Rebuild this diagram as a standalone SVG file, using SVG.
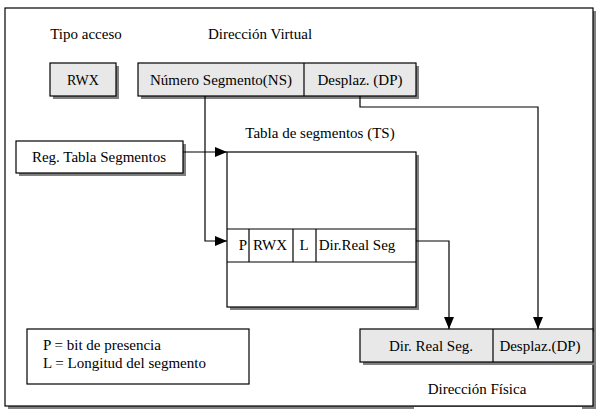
<svg xmlns="http://www.w3.org/2000/svg" width="601" height="416" viewBox="0 0 601 416">
<style>
text{font-family:"Liberation Serif","Times New Roman",serif;font-size:15px;fill:#000}
.c{text-anchor:middle}
.b{stroke:#000;stroke-width:1.2}
.g{fill:#e8e8e8}
.w{fill:#fff}
.sh{fill:#808080}
.ln{fill:none;stroke:#000;stroke-width:1.2}
</style>
<defs>
<marker id="ah" markerWidth="12" markerHeight="10" refX="12" refY="5" orient="auto" markerUnits="userSpaceOnUse">
<path d="M0,0 L12,5 L0,10 Z" fill="#000"/>
</marker>
</defs>
<rect width="601" height="416" fill="#fff"/>
<g id="frame">
<rect x="8" y="11" width="588" height="398" class="sh"/>
<rect x="5" y="8" width="588" height="398" class="b w"/>
<rect x="414" y="407" width="168" height="4" fill="#fff"/>
</g>
<g id="labels">
<text x="86" y="39" class="c">Tipo acceso</text>
<text x="260" y="39" class="c">Dirección Virtual</text>
<text x="320" y="138" class="c">Tabla de segmentos (TS)</text>
<text x="477" y="394" class="c">Dirección Física</text>
</g>
<g id="rwx">
<rect x="53" y="66" width="66" height="33" class="sh"/>
<rect x="50" y="63" width="66" height="33" class="b g"/>
<text x="83" y="85" class="c" style="font-size:14px">RWX</text>
</g>
<g id="virtual">
<rect x="141" y="66" width="278" height="33" class="sh"/>
<rect x="138" y="63" width="278" height="33" class="b g"/>
<line x1="304" y1="63" x2="304" y2="96" class="b"/>
<text x="221" y="85" class="c">Número Segmento(NS)</text>
<text x="360" y="85" class="c">Desplaz. (DP)</text>
</g>
<g id="reg">
<rect x="19" y="144" width="167" height="32" class="sh"/>
<rect x="16" y="141" width="167" height="32" class="b w"/>
<text x="99" y="162" class="c">Reg. Tabla Segmentos</text>
</g>
<g id="tabla">
<rect x="230" y="155" width="189" height="155" class="sh"/>
<rect x="227" y="152" width="189" height="155" class="b w"/>
<line x1="227" y1="229" x2="416" y2="229" class="b"/>
<line x1="227" y1="262" x2="416" y2="262" class="b"/>
<line x1="249" y1="229" x2="249" y2="262" class="b"/>
<line x1="293" y1="229" x2="293" y2="262" class="b"/>
<line x1="316" y1="229" x2="316" y2="262" class="b"/>
<text x="243" y="250" class="c">P</text>
<text x="270" y="250" class="c">RWX</text>
<text x="304" y="250" class="c">L</text>
<text x="357" y="250" class="c">Dir.Real Seg</text>
</g>
<g id="fisica">
<rect x="363" y="332" width="233" height="33" class="sh"/>
<rect x="360" y="329" width="233" height="33" class="b g"/>
<line x1="493" y1="329" x2="493" y2="362" class="b"/>
<text x="431" y="351" class="c">Dir. Real Seg.</text>
<text x="540" y="351" class="c">Desplaz.(DP)</text>
</g>
<g id="leyenda">
<rect x="27" y="329" width="222" height="55" class="b w"/>
<text x="43" y="350">P = bit de presencia</text>
<text x="43" y="368">L = Longitud del segmento</text>
</g>
<g id="connectors">
<path d="M205,96 V241 H227" class="ln" marker-end="url(#ah)"/>
<path d="M183,152 H227" class="ln" marker-end="url(#ah)"/>
<path d="M360,96 V107 H538 V329" class="ln" marker-end="url(#ah)"/>
<path d="M416,241 H449 V329" class="ln" marker-end="url(#ah)"/>
</g>
</svg>
